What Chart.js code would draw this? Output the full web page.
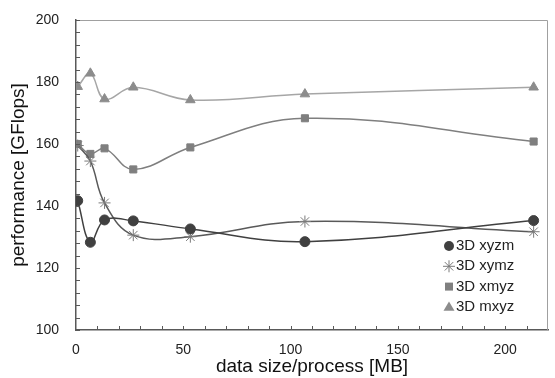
<!DOCTYPE html>
<html>
<head>
<meta charset="utf-8">
<script src="https://cdn.jsdelivr.net/npm/chart.js"></script>
<style>
  html, body { margin: 0; padding: 0; background: #fff; }
  #wrap { width: 555px; height: 378px; }
</style>
</head>
<body>
<div id="wrap"><canvas id="perf"></canvas></div>
<script>
// data size per process [MB]
const sizes = [0.8, 6.7, 13.3, 26.7, 53.3, 106.7, 213.3];
const xyzm = [141.7, 128.3, 135.5, 135.2, 132.6, 128.5, 135.3];
const xymz = [159.5, 154.5, 141.0, 130.6, 130.1, 135.0, 131.7];
const xmyz = [160.0, 156.8, 158.6, 151.8, 158.9, 168.3, 160.8];
const mxyz = [178.5, 182.8, 174.5, 178.3, 174.2, 176.1, 178.3];
const seriesNames = ['3D xyzm', '3D xymz', '3D xmyz', '3D mxyz'];
const xTicks = [0, 50, 100, 150, 200];
const yTicks = [100, 120, 140, 160, 180, 200];

const pts = (vals) => vals.map((v, i) => ({x: sizes[i], y: v}));

const styles = [
  {color: '#404040', line: '#404040', shape: 'circle', r: 5},
  {color: '#7a7a7a', line: '#595959', shape: 'star', r: 6},
  {color: '#7f7f7f', line: '#7f7f7f', shape: 'rect', r: 5},
  {color: '#8c8c8c', line: '#a6a6a6', shape: 'triangle', r: 5.5}
];

const makeSet = (label, vals, s) => ({
  label: label,
  data: pts(vals),
  borderColor: s.line,
  borderWidth: 1.5,
  backgroundColor: s.color,
  pointStyle: s.shape,
  pointRadius: s.r,
  pointBorderColor: s.color,
  pointBorderWidth: 1,
  pointBackgroundColor: s.color,
  tension: 0.4,
  fill: false
});

function drawMarker(ctx, shape, x, y, r, color) {
  ctx.save();
  ctx.fillStyle = color;
  ctx.strokeStyle = color;
  ctx.lineWidth = 1;
  ctx.beginPath();
  if (shape === 'circle') {
    ctx.arc(x, y, r, 0, Math.PI * 2);
    ctx.fill();
  } else if (shape === 'rect') {
    ctx.rect(x - r * 0.8, y - r * 0.8, r * 1.6, r * 1.6);
    ctx.fill();
  } else if (shape === 'triangle') {
    ctx.moveTo(x, y - r);
    ctx.lineTo(x + r, y + r * 0.7);
    ctx.lineTo(x - r, y + r * 0.7);
    ctx.closePath();
    ctx.fill();
  } else {
    for (let a = 0; a < 4; a++) {
      const t = a * Math.PI / 4;
      ctx.moveTo(x - Math.cos(t) * r, y - Math.sin(t) * r);
      ctx.lineTo(x + Math.cos(t) * r, y + Math.sin(t) * r);
    }
    ctx.stroke();
  }
  ctx.restore();
}

// inner minor ticks, light frame on top/right, and the in-plot legend
const decor = {
  id: 'decor',
  afterDraw(chart) {
    const ctx = chart.ctx;
    const a = chart.chartArea;
    const xs = chart.scales.x, ys = chart.scales.y;
    ctx.save();
    ctx.strokeStyle = '#a0a0a0';
    ctx.lineWidth = 1;
    ctx.beginPath();
    ctx.moveTo(a.left, a.top + 0.5);
    ctx.lineTo(a.right - 0.5, a.top + 0.5);
    ctx.lineTo(a.right - 0.5, a.bottom);
    ctx.stroke();

    ctx.strokeStyle = '#595959';
    ctx.beginPath();
    for (let v = 100; v <= 200; v += 4) {
      const py = Math.round(ys.getPixelForValue(v)) + 0.5;
      ctx.moveTo(a.left, py);
      ctx.lineTo(a.left + 4, py);
    }
    for (let v = 10; v <= 210; v += 10) {
      const px = Math.round(xs.getPixelForValue(v)) + 0.5;
      ctx.moveTo(px, a.bottom);
      ctx.lineTo(px, a.bottom - 4);
    }
    ctx.stroke();

    ctx.font = '15px "Liberation Sans", Arial, sans-serif';
    ctx.fillStyle = '#222';
    ctx.textBaseline = 'middle';
    seriesNames.forEach((name, i) => {
      const mx = a.right - 99;
      const my = a.bottom - 84 + i * 20.3;
      drawMarker(ctx, styles[i].shape, mx, my, styles[i].r, styles[i].color);
      ctx.fillText(name, mx + 7, my);
    });
    ctx.restore();
  }
};

const font = (size) => ({family: '"Liberation Sans", Arial, sans-serif', size: size});

new Chart(document.getElementById('perf'), {
  type: 'line',
  data: {
    datasets: [
      makeSet(seriesNames[0], xyzm, styles[0]),
      makeSet(seriesNames[1], xymz, styles[1]),
      makeSet(seriesNames[2], xmyz, styles[2]),
      makeSet(seriesNames[3], mxyz, styles[3])
    ]
  },
  options: {
    responsive: true,
    maintainAspectRatio: false,
    animation: false,
    layout: {padding: {top: 20, right: 1, left: 0, bottom: 0}},
    plugins: {legend: {display: false}, tooltip: {enabled: false}},
    scales: {
      x: {
        type: 'linear',
        min: 0,
        max: 220,
        afterBuildTicks: (s) => { s.ticks = xTicks.map(v => ({value: v})); },
        afterFit: (s) => { s.height = 48; s.paddingLeft = 0; s.paddingRight = 0; },
        grid: {display: true, drawOnChartArea: false, drawTicks: false},
        border: {color: '#595959', width: 1.5},
        ticks: {color: '#222', font: font(14), padding: 12, maxRotation: 0},
        title: {display: true, text: 'data size/process [MB]', color: '#111', font: font(19), padding: {top: 0, bottom: 0}}
      },
      y: {
        min: 100,
        max: 200,
        afterBuildTicks: (s) => { s.ticks = yTicks.map(v => ({value: v})); },
        afterFit: (s) => { s.width = 76; s.paddingTop = 8; s.paddingBottom = 8; },
        grid: {display: true, drawOnChartArea: false, drawTicks: false},
        border: {color: '#595959', width: 1.5},
        ticks: {color: '#222', font: font(14), padding: 17},
        title: {display: true, text: 'performance [GFlops]', color: '#111', font: font(19), padding: {top: 7, bottom: 0}}
      }
    }
  },
  plugins: [decor]
});
</script>
</body>
</html>
